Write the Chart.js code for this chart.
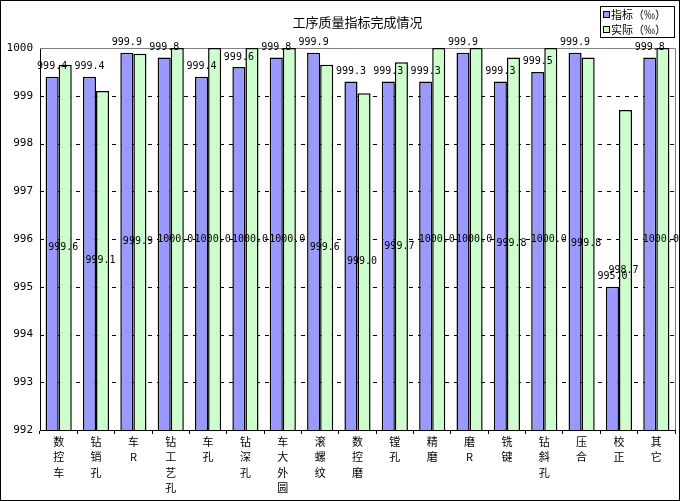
<!DOCTYPE html>
<html>
<head>
<meta charset="utf-8">
<script src="https://cdn.jsdelivr.net/npm/chart.js@4/dist/chart.umd.min.js"></script>
<style>
  html, body { margin: 0; padding: 0; background: #fff; }
  canvas { display: block; }
</style>
</head>
<body>
<canvas id="myChart" width="680" height="501"></canvas>
<script>
// 工序名称
const categories = ["数控车", "钻销孔", "车R", "钻工艺孔", "车孔", "钻深孔", "车大外圆", "滚螺纹", "数控磨",
  "镗孔", "精磨", "磨R", "铣键", "钻斜孔", "压合", "校正", "其它"];
// 指标 (‰)
const target = [999.4, 999.4, 999.9, 999.8, 999.4, 999.6, 999.8, 999.9, 999.3,
  999.3, 999.3, 999.9, 999.3, 999.5, 999.9, 995.0, 999.8];
// 实际 (‰)
const actual = [999.65, 999.1, 999.88, 1000.0, 1000.0, 1000.0, 1000.0, 999.65, 999.05,
  999.7, 1000.0, 1000.0, 999.8, 1000.0, 999.8, 998.7, 1000.0];
const seriesNames = ["指标（‰）", "实际（‰）"];
const yMin = 992;
const yMax = 1000;

const title = "工序质量指标完成情况";
const cjk = "'Noto Sans CJK SC', sans-serif";
const mono = "'DejaVu Sans Mono', monospace";

// grid, plot border, labels, legend and title drawn on the canvas
const extras = {
  id: "extras",
  beforeDatasetsDraw(chart) {
    const { ctx, chartArea: a, scales } = chart;
    const y = scales.y;
    ctx.save();
    ctx.lineWidth = 1;
    ctx.strokeStyle = "#000";
    ctx.setLineDash([4, 5]);
    for (let v = yMin + 1; v < yMax; v++) {
      const py = Math.round(y.getPixelForValue(v)) + 0.5;
      ctx.beginPath();
      ctx.moveTo(a.left, py);
      ctx.lineTo(a.right, py);
      ctx.stroke();
    }
    ctx.setLineDash([]);
    ctx.strokeStyle = "#808080";
    ctx.beginPath();
    ctx.moveTo(a.left, Math.round(a.top) + 0.5);
    ctx.lineTo(Math.round(a.right) + 0.5, Math.round(a.top) + 0.5);
    ctx.lineTo(Math.round(a.right) + 0.5, a.bottom);
    ctx.stroke();
    ctx.restore();
  },
  afterDatasetsDraw(chart) {
    const { ctx, scales } = chart;
    const base = scales.y.getPixelForValue(yMin);
    ctx.save();
    ctx.font = "10px " + mono;
    ctx.fillStyle = "#000";
    ctx.textAlign = "center";
    ctx.textBaseline = "middle";
    chart.getDatasetMeta(0).data.forEach((bar, i) => {
      ctx.fillText(target[i].toFixed(1), bar.x, bar.y - 10);
    });
    chart.getDatasetMeta(1).data.forEach((bar, i) => {
      ctx.fillText(actual[i].toFixed(1), bar.x - 2, (bar.y + base) / 2);
    });
    ctx.restore();
  },
  afterDraw(chart) {
    const { ctx, chartArea: a } = chart;
    ctx.save();
    // title
    ctx.fillStyle = "#000";
    ctx.font = "13px " + cjk;
    ctx.textAlign = "center";
    ctx.textBaseline = "middle";
    ctx.fillText(title, (a.left + a.right) / 2, 22);
    // legend
    ctx.lineWidth = 1;
    ctx.strokeStyle = "#000";
    ctx.fillStyle = "#fff";
    ctx.fillRect(600.5, 6.5, 74, 31);
    ctx.strokeRect(600.5, 6.5, 74, 31);
    ctx.font = "11px " + cjk;
    ctx.textAlign = "left";
    chart.data.datasets.forEach((ds, i) => {
      const cy = 15 + i * 15;
      ctx.fillStyle = ds.backgroundColor;
      ctx.fillRect(603.5, cy - 3.5, 6, 6);
      ctx.strokeRect(603.5, cy - 3.5, 6, 6);
      ctx.fillStyle = "#000";
      ctx.fillText(ds.label, 611, cy);
    });
    // outer frame
    ctx.strokeRect(0.5, 0.5, chart.width - 1, chart.height - 1);
    ctx.restore();
  }
};

const ctx = document.getElementById("myChart").getContext("2d");
new Chart(ctx, {
  type: "bar",
  data: {
    labels: categories.map((c) => c.split("")),
    datasets: [
      {
        label: seriesNames[0],
        data: target,
        backgroundColor: "#9999FF",
        borderColor: "#000",
        borderWidth: 1.5,
        borderSkipped: "bottom",
      },
      {
        label: seriesNames[1],
        data: actual,
        backgroundColor: "#CCFFCC",
        borderColor: "#000",
        borderWidth: 1.5,
        borderSkipped: "bottom",
      },
    ],
  },
  options: {
    responsive: false,
    animation: false,
    devicePixelRatio: 1,
    layout: { padding: { left: 0, top: 48, right: 5, bottom: 0 } },
    datasets: { bar: { categoryPercentage: 0.7, barPercentage: 1.0 } },
    plugins: {
      legend: { display: false },
      title: { display: false },
      tooltip: { enabled: false },
    },
    scales: {
      x: {
        offset: true,
        grid: { display: true, drawOnChartArea: false, tickLength: 4, color: "#000" },
        border: { display: true, color: "#000", width: 1 },
        ticks: {
          autoSkip: false,
          maxRotation: 0,
          minRotation: 0,
          padding: 0,
          color: "#000",
          font: { family: cjk, size: 11, lineHeight: 1.4 },
        },
        afterFit(scale) { scale.height = 71; },
      },
      y: {
        min: yMin,
        max: yMax,
        grid: { display: false },
        border: { display: true, color: "#000", width: 1 },
        ticks: {
          stepSize: 1,
          padding: -1,
          color: "#000",
          font: { family: mono, size: 11 },
          callback: (v) => String(v),
        },
        afterFit(scale) { scale.width = 40; },
      },
    },
  },
  plugins: [extras],
});
</script>
</body>
</html>
